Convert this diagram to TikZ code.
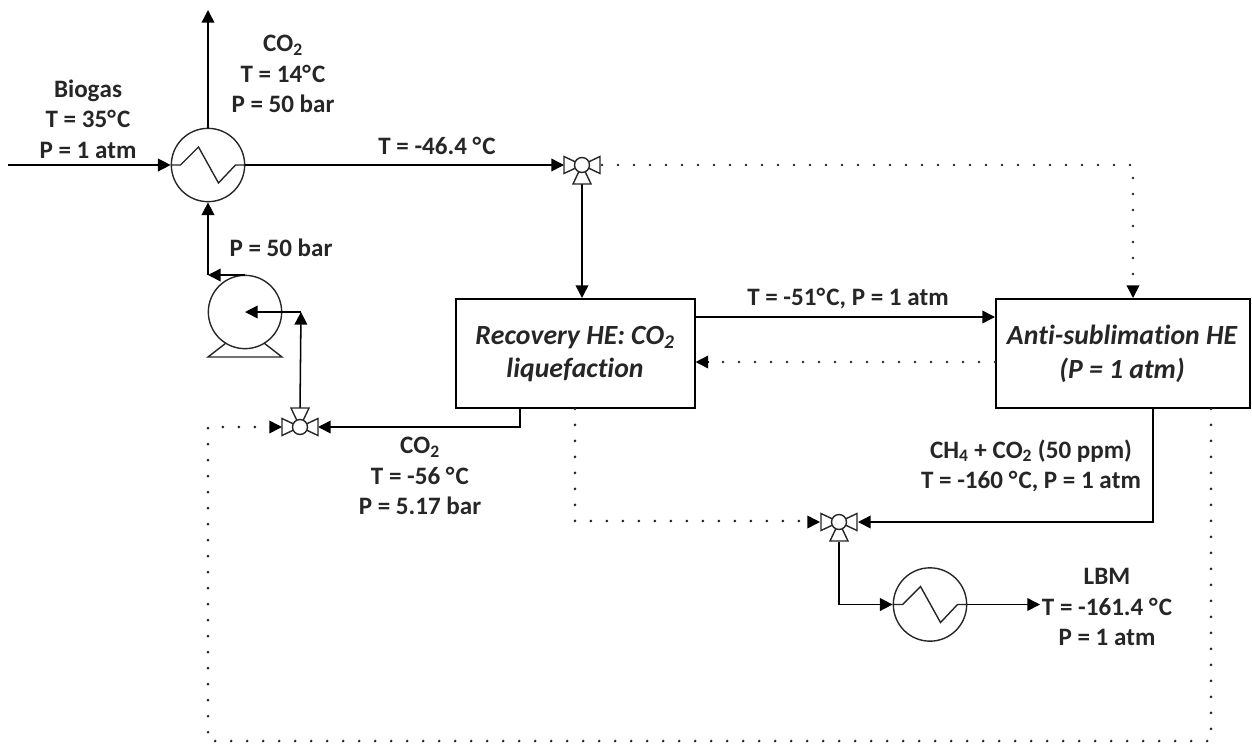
\documentclass[tikz,border=0pt]{standalone}
\usepackage{fontspec}
\setmainfont{Carlito}[Ligatures={NoCommon},Kerning=Off]
\usetikzlibrary{arrows.meta,calc}
\newcommand{\dg}{°\kern0.9pt }
\newcommand{\vlv}[2]{%
  \begin{scope}[shift={(#1)}]
    \draw[sym,fill=white] (-18,8.5) -- (0,0) -- (-18,-8.5) -- cycle;
    \draw[sym,fill=white] (18,8.5) -- (0,0) -- (18,-8.5) -- cycle;
    \draw[sym,fill=white] (-9,#2*19) -- (0,#2*0) -- (9,#2*19) -- cycle;
    \draw[sym,fill=white] (0,0) circle (7.5);
  \end{scope}}
\newcommand{\zig}[1]{%
  \draw[sym] ($(#1)+(-36.5,0)$) -- ++(9,0) -- ++(18,-18) -- ++(20,36) -- ++(17,-18) -- ++(9,0);}
\tikzset{
  x=0.75pt,y=-0.75pt,
  sym/.style={line width=1.05pt,draw=black!85},
  flow/.style={line width=1.15pt,draw=black},
  arr/.style={flow,-{Triangle[length=9.5pt,width=9.5pt]}},
  dots/.style={line width=2.1pt,line cap=round,draw=black!85,dash pattern=on 0pt off 12pt},
  hx/.style={circle,draw=black!85,line width=1.05pt,minimum size=55pt,inner sep=0pt},
  vlvpt/.style={circle,minimum size=0pt,inner sep=0pt},
  box/.style={draw=black,line width=1.15pt,inner sep=0pt,anchor=north west},
  lab/.style={align=center,font=\bfseries\fontsize{18.8pt}{22.8pt}\selectfont,text=black!85,inner sep=0pt},
  blab/.style={lab,font=\bfseries\itshape\fontsize{20.8pt}{25pt}\selectfont},
  tip/.style={-{Triangle[length=9.5pt,width=9.5pt]},line width=1.15pt,draw=black}
}
\begin{document}
\begin{tikzpicture}
\useasboundingbox (0,0) rectangle (1252,743);
\node[hx] (hxa) at (208,165) {};
\node[hx] (hxb) at (930,604.5) {};
\node[hx] (pump) at (245,312) {};
\node[vlvpt] (va) at (582,165) {};
\node[vlvpt] (vb) at (300,427) {};
\node[vlvpt] (vc) at (839,522) {};
\node[box,minimum width=179.25pt,minimum height=82pt] (rec) at (455,298) {};
\node[box,minimum width=190.5pt,minimum height=82pt] (anti) at (995,298) {};
\coordinate (feed) at (8,165);
\coordinate (co2out) at (208,10);
\coordinate (pumptop) at (245,275);
\coordinate (elbowa) at (208,275);
\coordinate (pumpin) at (301,312);
\coordinate (pumpcentre) at (245,312);
\coordinate (lbm) at (1040,604.5);
\coordinate (d1) at (1133,165);
\coordinate (d2) at (575,521);
\coordinate (d3) at (1211,741);
\coordinate (d4) at (208,741);
\coordinate (d5) at (208,427);
\draw[arr] (feed) -- (hxa.west);
\draw[arr] (hxa.north) -- (co2out);
\draw[arr] (hxa.east) -- ($(va)+(-18,0)$);
\draw[arr] ($(va)+(0,19)$) -- (va |- rec.north);
\draw[arr] (pumptop) -- (elbowa);
\draw[arr] (elbowa) -- (hxa.south);
\draw[arr] (pumpin) -- (pumpcentre);
\draw[arr] ($(vb)+(0,-18)$) -- (pumpin);
\draw[arr] (rec.south -| 520,0) -- (520,427) -- ($(vb)+(18,0)$);
\draw[arr] (rec.north east |- 0,317) -- (anti.north west |- 0,317);
\draw[arr] (anti.south -| 1153,0) -- (1153,522) -- ($(vc)+(19,0)$);
\draw[arr] ($(vc)+(0,20)$) -- (vc |- hxb.west) -- (hxb.west);
\draw[arr] (hxb.east) -- (lbm);
\draw[dots] ($(va)+(20,0)$) -- (d1) -- (d1 |- anti.north);
\draw[tip] ($(d1 |- anti.north)+(0,-9)$) -- (d1 |- anti.north);
\draw[dots] (anti.north west |- 0,362) -- (rec.north east |- 0,362);
\draw[tip] ($(rec.north east |- 0,362)+(12,0)$) -- (rec.north east |- 0,362);
\draw[dots] (rec.south -| d2) -- (d2) -- ($(vc)+(-19,-1)$);
\draw[tip] ($(vc)+(-30,0)$) -- ($(vc)+(-19,0)$);
\draw[dots] (anti.south -| d3) -- (d3) -- (d4) -- (d5) -- ($(vb)+(-19,0)$);
\draw[tip] ($(vb)+(-30,0)$) -- ($(vb)+(-18,0)$);
\zig{hxa}
\zig{hxb}
\vlv{va}{1}
\vlv{vb}{-1}
\vlv{vc}{1}
\draw[sym] (226,343) -- (208,357) -- (282,357) -- (264,343);
\node[lab] (l1) at (88,119) {Biogas\\T = 35\dg C\\P = 1 atm};
\node[lab] (l2) at (283,74) {CO\textsubscript{2}\\T = 14\dg C\\P = 50 bar};
\node[lab] (l3) at (437,146) {T = -46.4 \dg C};
\node[lab] (l4) at (281,248) {P = 50 bar};
\node[lab] (l5) at (848,299) {T = -51\dg C, P = 1 atm};
\node[blab] (l6) at (575,354) {Recovery HE: CO\textsubscript{2}\\liquefaction};
\node[blab] (l7) at (1122,354) {Anti-sublimation HE\\(P = 1 atm)};
\node[lab] (l8) at (1031,466) {CH\textsubscript{4} + CO\textsubscript{2} (50 ppm)\\T = -160 \dg C, P = 1 atm};
\node[lab] (l9) at (420,476) {CO\textsubscript{2}\\T = -56 \dg C\\P = 5.17 bar};
\node[lab] (l10) at (1107,607) {LBM\\T = -161.4 \dg C\\P = 1 atm};
\end{tikzpicture}
\end{document}
